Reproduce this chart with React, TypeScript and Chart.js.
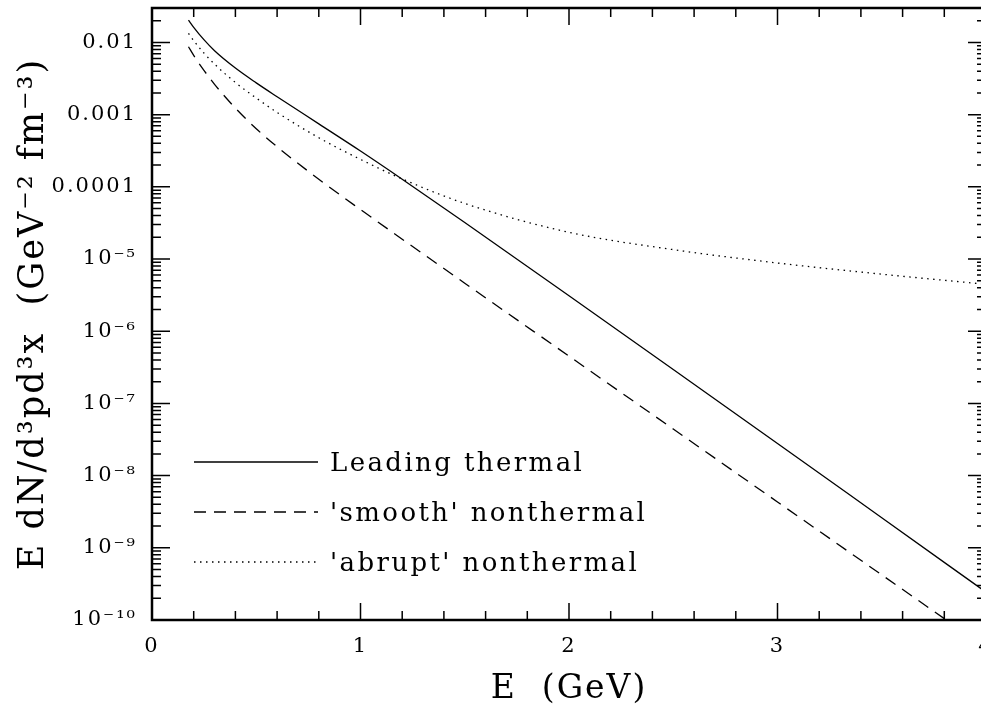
import React, { useEffect, useRef } from 'react';
import { Chart, registerables } from 'chart.js';

Chart.register(...registerables);

// Photon energy E (GeV)
const energies = [0.175, 0.2, 0.25, 0.3, 0.4, 0.5, 0.6, 0.8, 1.0, 1.2, 1.5, 2.0, 2.5, 3.0, 3.5, 4.0];

// E dN/d^3p d^3x  (GeV^-2 fm^-3)
const leadingThermal = [
  2.042e-2, 1.622e-2, 1.084e-2, 7.674e-3, 4.416e-3, 2.754e-3, 1.77e-3, 7.447e-4,
  3.133e-4, 1.276e-4, 3.206e-5, 3.097e-6, 2.958e-7, 2.793e-8, 2.606e-9, 2.432e-10,
];
const smoothNonthermal = [
  8.71e-3, 6.607e-3, 4.074e-3, 2.63e-3, 1.23e-3, 6.383e-4, 3.589e-4, 1.274e-4,
  4.842e-5, 1.884e-5, 4.624e-6, 4.519e-7, 4.416e-8, 4.315e-9, 4.217e-10, 4.121e-11,
];
const abruptNonthermal = [
  1.334e-2, 1.059e-2, 7.079e-3, 5.012e-3, 2.786e-3, 1.698e-3, 1.072e-3, 4.786e-4,
  2.399e-4, 1.288e-4, 5.888e-5, 2.344e-5, 1.349e-5, 8.81e-6, 6.166e-6, 4.467e-6,
];

const seriesLabels = ['Leading thermal', "'smooth' nonthermal", "'abrupt' nonthermal"];
const seriesDashes: number[][] = [[], [12, 8], [1.5, 4.5]];

const xTickValues = [0, 1, 2, 3, 4];
const xTickLabels = ['0', '1', '2', '3', '4'];
const yDecades = [-2, -3, -4, -5, -6, -7, -8, -9, -10];
const yDecadeLabels = ['0.01', '0.001', '0.0001', '10⁻⁵', '10⁻⁶', '10⁻⁷', '10⁻⁸', '10⁻⁹', '10⁻¹⁰'];

const xTitle = 'E  (GeV)';
const yTitle = 'E dN/d³pd³x  (GeV⁻² fm⁻³)';

const FONT = "'DejaVu Serif', serif";

const isInt = (v: number) => Math.abs(v - Math.round(v)) < 1e-6;
const isDecade = (v: number) => {
  const l = Math.log10(v);
  return Math.abs(l - Math.round(l)) < 1e-6;
};

const spacingPlugin = {
  id: 'spacing',
  beforeDraw(chart: any) {
    chart.ctx.letterSpacing = '2px';
  },
  afterDraw(chart: any) {
    chart.ctx.letterSpacing = '0px';
  },
};

const framePlugin = {
  id: 'frameTicks',
  afterDatasetsDraw(chart: any) {
    const { ctx, chartArea: a, scales } = chart;
    ctx.save();
    ctx.strokeStyle = '#000';
    ctx.lineWidth = 1.5;
    ctx.beginPath();
    for (const t of scales.x.ticks) {
      const px = scales.x.getPixelForValue(t.value);
      const len = isInt(t.value) ? 17 : 9;
      ctx.moveTo(px, a.bottom);
      ctx.lineTo(px, a.bottom - len);
      ctx.moveTo(px, a.top);
      ctx.lineTo(px, a.top + len);
    }
    for (const t of scales.y.ticks) {
      const py = scales.y.getPixelForValue(t.value);
      const len = isDecade(t.value) ? 18 : 9;
      ctx.moveTo(a.left, py);
      ctx.lineTo(a.left + len, py);
      ctx.moveTo(a.right, py);
      ctx.lineTo(a.right - len, py);
    }
    ctx.stroke();
    ctx.lineWidth = 2.5;
    ctx.strokeRect(a.left, a.top, a.right - a.left, a.bottom - a.top);
    ctx.restore();
  },
};

const legendPlugin = {
  id: 'innerLegend',
  afterDraw(chart: any) {
    const { ctx, chartArea: a } = chart;
    ctx.save();
    ctx.letterSpacing = '2.4px';
    ctx.font = `26px ${FONT}`;
    ctx.fillStyle = '#000';
    ctx.textAlign = 'left';
    ctx.textBaseline = 'alphabetic';
    chart.data.datasets.forEach((ds: any, i: number) => {
      const y = a.bottom - 158 + 50 * i;
      ctx.strokeStyle = '#000';
      ctx.lineWidth = 1.3;
      ctx.setLineDash(ds.borderDash || []);
      ctx.beginPath();
      ctx.moveTo(a.left + 42, y);
      ctx.lineTo(a.left + 166, y);
      ctx.stroke();
      ctx.setLineDash([]);
      ctx.fillText(ds.label, a.left + 178, y + 9);
    });
    ctx.restore();
  },
};

export default function App() {
  const ref = useRef<HTMLCanvasElement>(null);

  useEffect(() => {
    if (!ref.current) return;
    const series = [leadingThermal, smoothNonthermal, abruptNonthermal];
    const chart = new Chart(ref.current, {
      type: 'line',
      data: {
        datasets: series.map((vals, i) => ({
          label: seriesLabels[i],
          data: energies.map((x, j) => ({ x, y: vals[j] })),
          borderColor: '#000',
          borderWidth: 1.3,
          borderDash: seriesDashes[i],
          pointRadius: 0,
          fill: false,
          cubicInterpolationMode: 'monotone' as const,
        })),
      },
      options: {
        responsive: false,
        animation: false,
        devicePixelRatio: 1,
        layout: { padding: { left: 0, right: 14, top: 8, bottom: 0 } },
        plugins: { legend: { display: false }, tooltip: { enabled: false } },
        scales: {
          x: {
            type: 'linear',
            min: 0,
            max: 4,
            afterBuildTicks: (s: any) => {
              const t = [];
              for (let k = 0; k <= 20; k++) t.push({ value: k * 0.2 });
              s.ticks = t;
            },
            ticks: {
              autoSkip: false,
              maxRotation: 0,
              padding: 14,
              color: '#000',
              font: { family: FONT, size: 21 },
              callback: (v: any) => {
                const n = Number(v);
                const idx = xTickValues.findIndex((tv) => Math.abs(tv - n) < 1e-6);
                return idx >= 0 ? xTickLabels[idx] : '';
              },
            },
            grid: { drawOnChartArea: false, drawTicks: false },
            border: { display: false },
            title: {
              display: true,
              text: xTitle,
              color: '#000',
              font: { family: FONT, size: 33, lineHeight: 1 },
              padding: { top: 0, bottom: 4 },
            },
            afterFit: (s: any) => {
              s.height = 90;
              s.paddingLeft = 0;
              s.paddingRight = 0;
            },
          },
          y: {
            type: 'logarithmic',
            min: 1e-10,
            max: 0.03,
            afterBuildTicks: (s: any) => {
              const t = [];
              for (let e = -10; e <= -2; e++) {
                for (let m = 1; m <= 9; m++) {
                  const v = m * Math.pow(10, e);
                  if (v <= 0.0300001) t.push({ value: v });
                }
              }
              s.ticks = t;
            },
            ticks: {
              autoSkip: false,
              padding: 15,
              color: '#000',
              font: { family: FONT, size: 21 },
              callback: (v: any) => {
                const l = Math.round(Math.log10(Number(v)));
                if (!isDecade(Number(v))) return '';
                const idx = yDecades.indexOf(l);
                return idx >= 0 ? yDecadeLabels[idx] : '';
              },
            },
            grid: { drawOnChartArea: false, drawTicks: false },
            border: { display: false },
            title: {
              display: true,
              text: yTitle,
              color: '#000',
              font: { family: FONT, size: 35, lineHeight: 1 },
              padding: { top: 16, bottom: 0 },
            },
            afterFit: (s: any) => {
              s.width = 152;
              s.paddingTop = 0;
              s.paddingBottom = 0;
            },
          },
        },
      },
      plugins: [spacingPlugin, framePlugin, legendPlugin],
    });
    return () => chart.destroy();
  }, []);

  return (
    <div
      style={{
        position: 'absolute',
        left: 0,
        top: 0,
        width: 981,
        height: 710,
        overflow: 'hidden',
        background: '#fff',
      }}
    >
      <canvas ref={ref} width={1000} height={710} style={{ display: 'block' }} />
    </div>
  );
}
